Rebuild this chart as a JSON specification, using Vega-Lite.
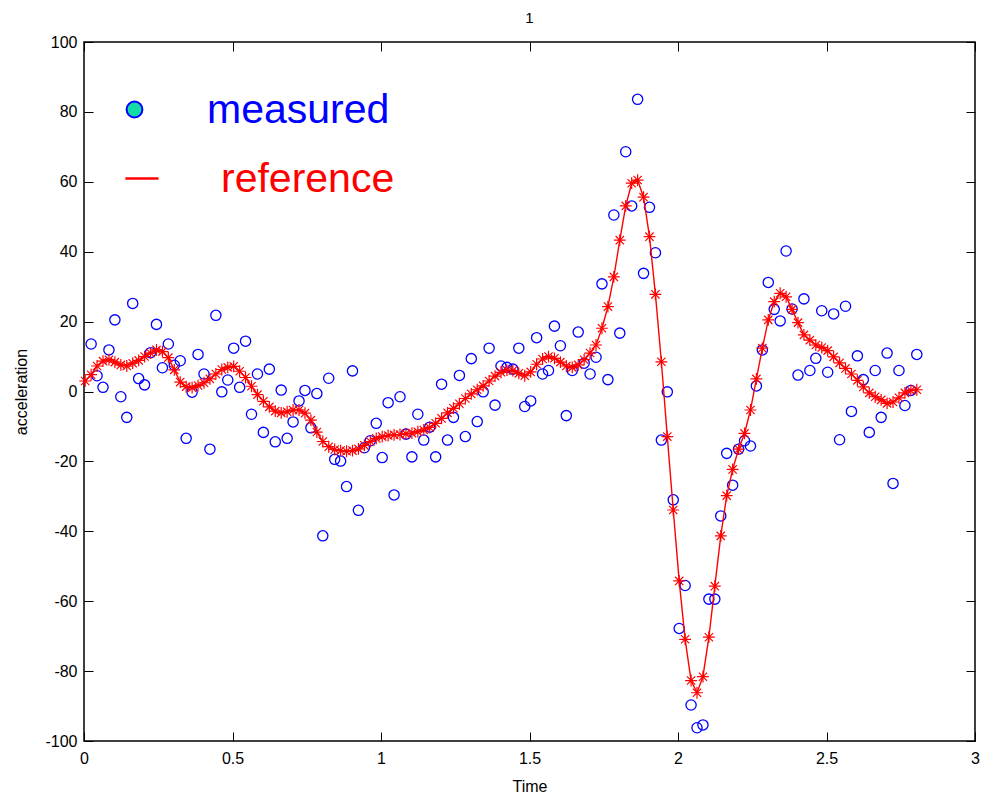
{
  "$schema": "https://vega.github.io/schema/vega-lite/v6.json",
  "width": 891,
  "height": 699,
  "autosize": "none",
  "padding": {"left": 84, "top": 42, "right": 6, "bottom": 56},
  "background": "white",
  "config": {
    "font": "Liberation Sans",
    "view": {"stroke": "black", "strokeWidth": 1.5},
    "axis": {
      "domain": false,
      "grid": false,
      "tickColor": "black",
      "tickSize": -9,
      "tickWidth": 1,
      "labelFont": "Liberation Sans",
      "labelFontSize": 16,
      "labelColor": "black",
      "titleFont": "Liberation Sans",
      "titleFontSize": 16,
      "titleFontWeight": "normal",
      "titleColor": "black"
    }
  },
  "title": {"text": "1", "fontSize": 15, "fontWeight": "normal", "font": "Liberation Sans", "offset": 8, "color": "black"},
  "datasets": {
    "reference": [
      {"t":0.004,"v":3.0},{"t":0.024,"v":4.8},{"t":0.044,"v":7.3},{"t":0.064,"v":8.7},{"t":0.084,"v":9.1},{"t":0.104,"v":8.4},{"t":0.124,"v":7.6},{"t":0.144,"v":7.3},{"t":0.164,"v":8.1},{"t":0.184,"v":8.9},
      {"t":0.204,"v":10.0},{"t":0.224,"v":11.0},{"t":0.244,"v":11.9},{"t":0.264,"v":11.4},{"t":0.284,"v":9.7},{"t":0.304,"v":6.2},{"t":0.324,"v":2.7},{"t":0.344,"v":1.4},{"t":0.364,"v":1.1},{"t":0.384,"v":1.7},
      {"t":0.404,"v":2.5},{"t":0.424,"v":3.6},{"t":0.444,"v":5.0},{"t":0.464,"v":6.3},{"t":0.484,"v":6.9},{"t":0.504,"v":7.2},{"t":0.524,"v":5.8},{"t":0.544,"v":4.0},{"t":0.564,"v":1.5},{"t":0.584,"v":-0.9},
      {"t":0.604,"v":-2.8},{"t":0.624,"v":-4.4},{"t":0.644,"v":-5.6},{"t":0.664,"v":-6.1},{"t":0.684,"v":-5.8},{"t":0.704,"v":-5.3},{"t":0.724,"v":-5.3},{"t":0.744,"v":-6.2},{"t":0.764,"v":-8.2},{"t":0.784,"v":-11.6},
      {"t":0.804,"v":-14.3},{"t":0.824,"v":-15.8},{"t":0.844,"v":-16.6},{"t":0.864,"v":-16.9},{"t":0.884,"v":-17.1},{"t":0.904,"v":-16.9},{"t":0.924,"v":-16.4},{"t":0.944,"v":-15.4},{"t":0.964,"v":-14.3},{"t":0.984,"v":-13.4},
      {"t":1.004,"v":-12.9},{"t":1.024,"v":-12.6},{"t":1.044,"v":-12.4},{"t":1.064,"v":-12.3},{"t":1.084,"v":-12.1},{"t":1.104,"v":-11.9},{"t":1.124,"v":-11.5},{"t":1.144,"v":-11.0},{"t":1.164,"v":-10.3},{"t":1.184,"v":-9.1},
      {"t":1.204,"v":-7.7},{"t":1.224,"v":-6.1},{"t":1.244,"v":-4.8},{"t":1.264,"v":-3.5},{"t":1.284,"v":-2.0},{"t":1.304,"v":-0.7},{"t":1.324,"v":0.5},{"t":1.344,"v":1.6},{"t":1.364,"v":3.0},{"t":1.384,"v":4.4},
      {"t":1.404,"v":5.5},{"t":1.424,"v":6.1},{"t":1.444,"v":6.0},{"t":1.464,"v":5.2},{"t":1.484,"v":4.5},{"t":1.504,"v":5.6},{"t":1.524,"v":7.8},{"t":1.544,"v":9.3},{"t":1.564,"v":10.0},{"t":1.584,"v":9.5},
      {"t":1.604,"v":8.4},{"t":1.624,"v":7.3},{"t":1.644,"v":6.9},{"t":1.664,"v":7.6},{"t":1.684,"v":9.1},{"t":1.704,"v":11.0},{"t":1.724,"v":13.3},{"t":1.744,"v":18.1},{"t":1.764,"v":24.3},{"t":1.784,"v":32.8},
      {"t":1.804,"v":43.3},{"t":1.824,"v":53.1},{"t":1.844,"v":59.6},{"t":1.864,"v":60.5},{"t":1.884,"v":55.6},{"t":1.904,"v":44.3},{"t":1.924,"v":27.8},{"t":1.944,"v":8.5},{"t":1.964,"v":-12.9},{"t":1.984,"v":-33.9},
      {"t":2.004,"v":-54.2},{"t":2.024,"v":-70.9},{"t":2.044,"v":-82.7},{"t":2.064,"v":-86.2},{"t":2.084,"v":-81.6},{"t":2.104,"v":-70.3},{"t":2.124,"v":-55.7},{"t":2.144,"v":-41.3},{"t":2.164,"v":-29.8},{"t":2.184,"v":-22.3},
      {"t":2.204,"v":-16.5},{"t":2.224,"v":-12.0},{"t":2.244,"v":-5.3},{"t":2.264,"v":3.6},{"t":2.284,"v":12.4},{"t":2.304,"v":20.5},{"t":2.324,"v":25.7},{"t":2.344,"v":28.1},{"t":2.364,"v":27.1},{"t":2.384,"v":23.5},
      {"t":2.404,"v":19.7},{"t":2.424,"v":16.2},{"t":2.444,"v":14.7},{"t":2.464,"v":13.3},{"t":2.484,"v":12.6},{"t":2.504,"v":11.7},{"t":2.524,"v":9.9},{"t":2.544,"v":8.2},{"t":2.564,"v":6.6},{"t":2.584,"v":5.0},
      {"t":2.604,"v":3.2},{"t":2.624,"v":1.3},{"t":2.644,"v":-0.4},{"t":2.664,"v":-1.5},{"t":2.684,"v":-2.4},{"t":2.704,"v":-3.4},{"t":2.724,"v":-3.0},{"t":2.744,"v":-1.8},{"t":2.764,"v":-0.4},{"t":2.784,"v":0.3},
      {"t":2.804,"v":0.5}
    ],
    "measured": [
      {"t":0.024,"v":13.6},{"t":0.044,"v":4.5},{"t":0.064,"v":1.2},{"t":0.084,"v":11.9},{"t":0.104,"v":20.5},{"t":0.124,"v":-1.5},{"t":0.144,"v":-7.4},{"t":0.164,"v":25.2},{"t":0.184,"v":3.7},
      {"t":0.204,"v":1.9},{"t":0.224,"v":11.1},{"t":0.244,"v":19.2},{"t":0.264,"v":6.8},{"t":0.284,"v":13.6},{"t":0.304,"v":7.5},{"t":0.324,"v":8.8},{"t":0.344,"v":-13.4},{"t":0.364,"v":-0.2},{"t":0.384,"v":10.6},
      {"t":0.404,"v":5.0},{"t":0.424,"v":-16.5},{"t":0.444,"v":21.8},{"t":0.464,"v":-0.1},{"t":0.484,"v":3.3},{"t":0.504,"v":12.4},{"t":0.524,"v":1.2},{"t":0.544,"v":14.4},{"t":0.564,"v":-6.5},{"t":0.584,"v":5.0},
      {"t":0.604,"v":-11.7},{"t":0.624,"v":6.4},{"t":0.644,"v":-14.4},{"t":0.664,"v":0.4},{"t":0.684,"v":-13.4},{"t":0.704,"v":-8.7},{"t":0.724,"v":-2.7},{"t":0.744,"v":0.3},{"t":0.764,"v":-10.4},{"t":0.784,"v":-0.6},
      {"t":0.804,"v":-41.3},{"t":0.824,"v":3.8},{"t":0.844,"v":-19.4},{"t":0.864,"v":-19.9},{"t":0.884,"v":-27.2},{"t":0.904,"v":5.9},{"t":0.924,"v":-34.0},{"t":0.944,"v":-16.1},{"t":0.964,"v":-14.1},{"t":0.984,"v":-9.1},
      {"t":1.004,"v":-18.9},{"t":1.024,"v":-3.2},{"t":1.044,"v":-29.6},{"t":1.064,"v":-1.5},{"t":1.084,"v":-12.2},{"t":1.104,"v":-18.7},{"t":1.124,"v":-6.5},{"t":1.144,"v":-13.9},{"t":1.164,"v":-10.2},{"t":1.184,"v":-18.7},
      {"t":1.204,"v":2.1},{"t":1.224,"v":-13.9},{"t":1.244,"v":-7.4},{"t":1.264,"v":4.6},{"t":1.284,"v":-12.9},{"t":1.304,"v":9.4},{"t":1.324,"v":-8.6},{"t":1.344,"v":-0.1},{"t":1.364,"v":12.4},{"t":1.384,"v":-3.9},
      {"t":1.404,"v":7.3},{"t":1.424,"v":6.9},{"t":1.444,"v":6.4},{"t":1.464,"v":12.4},{"t":1.484,"v":-4.3},{"t":1.504,"v":-2.7},{"t":1.524,"v":15.4},{"t":1.544,"v":5.0},{"t":1.564,"v":6.0},{"t":1.584,"v":18.7},
      {"t":1.604,"v":13.1},{"t":1.624,"v":-6.9},{"t":1.644,"v":6.0},{"t":1.664,"v":17.0},{"t":1.684,"v":8.1},{"t":1.704,"v":5.0},{"t":1.724,"v":9.8},{"t":1.744,"v":30.8},{"t":1.764,"v":3.4},{"t":1.784,"v":50.5},
      {"t":1.804,"v":16.7},{"t":1.824,"v":68.6},{"t":1.844,"v":53.1},{"t":1.864,"v":83.6},{"t":1.884,"v":33.8},{"t":1.904,"v":52.7},{"t":1.924,"v":39.7},{"t":1.944,"v":-13.9},{"t":1.964,"v":-0.1},{"t":1.984,"v":-31.0},
      {"t":2.004,"v":-67.8},{"t":2.024,"v":-55.5},{"t":2.044,"v":-89.7},{"t":2.064,"v":-96.2},{"t":2.084,"v":-95.4},{"t":2.104,"v":-59.4},{"t":2.124,"v":-59.4},{"t":2.144,"v":-35.6},{"t":2.164,"v":-17.7},{"t":2.184,"v":-26.8},
      {"t":2.204,"v":-16.5},{"t":2.224,"v":-14.1},{"t":2.244,"v":-15.6},{"t":2.264,"v":1.6},{"t":2.284,"v":11.9},{"t":2.304,"v":31.2},{"t":2.324,"v":23.5},{"t":2.344,"v":20.2},{"t":2.364,"v":40.2},{"t":2.384,"v":23.6},
      {"t":2.404,"v":4.7},{"t":2.424,"v":26.5},{"t":2.444,"v":6.0},{"t":2.464,"v":9.5},{"t":2.484,"v":23.1},{"t":2.504,"v":5.5},{"t":2.524,"v":22.2},{"t":2.544,"v":-13.8},{"t":2.564,"v":24.4},{"t":2.584,"v":-5.7},
      {"t":2.604,"v":10.2},{"t":2.624,"v":3.4},{"t":2.644,"v":-11.7},{"t":2.664,"v":6.0},{"t":2.684,"v":-7.4},{"t":2.704,"v":11.0},{"t":2.724,"v":-26.3},{"t":2.744,"v":6.0},{"t":2.764,"v":-4.0},{"t":2.784,"v":0.3},
      {"t":2.804,"v":10.6}
    ]
  },
  "layer": [
    {
      "data": {"name": "measured"},
      "mark": {"type": "point", "filled": false, "size": 105, "strokeWidth": 1.3, "opacity": 1},
      "encoding": {
        "x": {
          "field": "t", "type": "quantitative",
          "scale": {"domain": [0, 3], "nice": false, "zero": false},
          "axis": {"orient": "bottom", "title": "Time", "values": [0, 0.5, 1, 1.5, 2, 2.5, 3], "labelExpr": "'' + datum.value", "labelPadding": 18, "titlePadding": 12, "labelFlush": false}
        },
        "y": {
          "field": "v", "type": "quantitative",
          "scale": {"domain": [-100, 100], "nice": false, "zero": false},
          "axis": {"orient": "left", "title": "acceleration", "values": [-100, -80, -60, -40, -20, 0, 20, 40, 60, 80, 100], "labelExpr": "'' + datum.value", "labelPadding": 16, "titlePadding": 15, "labelFlush": false}
        },
        "color": {
          "datum": "measured",
          "type": "nominal",
          "scale": {"domain": ["measured", "reference"], "range": ["blue", "red"]},
          "legend": {
            "orient": "none",
            "legendX": 30,
            "legendY": 47,
            "title": null,
            "padding": 0,
            "labelFont": "Liberation Sans",
            "labelFontSize": 41,
            "labelLimit": 500,
            "labelOffset": 52,
            "rowPadding": 27,
            "symbolSize": 250,
            "encode": {
              "symbols": {
                "update": {
                  "shape": {"signal": "datum.value === 'measured' ? 'circle' : 'M-0.55,0L1.45,0'"},
                  "fill": {"signal": "datum.value === 'measured' ? '#14dca6' : 'transparent'"},
                  "stroke": {"signal": "datum.value === 'measured' ? 'blue' : 'red'"},
                  "strokeWidth": {"signal": "datum.value === 'measured' ? 2 : 2.5"},
                  "size": {"signal": "datum.value === 'measured' ? 250 : 1100"},
                  "opacity": {"value": 1}
                }
              },
              "labels": {
                "update": {
                  "fill": {"signal": "datum.value === 'measured' ? 'blue' : 'red'"},
                  "dx": {"signal": "datum.value === 'measured' ? 0 : 14"},
                  "dy": {"value": 1}
                }
              }
            }
          }
        }
      }
    },
    {
      "data": {"name": "reference"},
      "mark": {
        "type": "line",
        "strokeWidth": 1.4,
        "point": {
          "shape": "M-1,0L1,0M0,-1L0,1M-0.7,-0.7L0.7,0.7M-0.7,0.7L0.7,-0.7",
          "filled": false,
          "size": 140,
          "strokeWidth": 1.2,
          "opacity": 1
        }
      },
      "encoding": {
        "x": {
          "field": "t", "type": "quantitative",
          "scale": {"domain": [0, 3], "nice": false, "zero": false},
          "axis": {"orient": "top", "title": null, "labels": false, "values": [0, 0.5, 1, 1.5, 2, 2.5, 3]}
        },
        "y": {
          "field": "v", "type": "quantitative",
          "scale": {"domain": [-100, 100], "nice": false, "zero": false},
          "axis": {"orient": "right", "title": null, "labels": false, "values": [-100, -80, -60, -40, -20, 0, 20, 40, 60, 80, 100]}
        },
        "color": {
          "datum": "reference",
          "type": "nominal",
          "legend": {
            "orient": "none",
            "legendX": 30,
            "legendY": 47,
            "title": null,
            "padding": 0,
            "labelFont": "Liberation Sans",
            "labelFontSize": 41,
            "labelLimit": 500,
            "labelOffset": 52,
            "rowPadding": 27,
            "symbolSize": 250,
            "encode": {
              "symbols": {
                "update": {
                  "shape": {"signal": "datum.value === 'measured' ? 'circle' : 'M-0.55,0L1.45,0'"},
                  "fill": {"signal": "datum.value === 'measured' ? '#14dca6' : 'transparent'"},
                  "stroke": {"signal": "datum.value === 'measured' ? 'blue' : 'red'"},
                  "strokeWidth": {"signal": "datum.value === 'measured' ? 2 : 2.5"},
                  "size": {"signal": "datum.value === 'measured' ? 250 : 1100"},
                  "opacity": {"value": 1}
                }
              },
              "labels": {
                "update": {
                  "fill": {"signal": "datum.value === 'measured' ? 'blue' : 'red'"},
                  "dx": {"signal": "datum.value === 'measured' ? 0 : 14"},
                  "dy": {"value": 1}
                }
              }
            }
          }
        }
      }
    }
  ],
  "resolve": {"axis": {"x": "independent", "y": "independent"}}
}
